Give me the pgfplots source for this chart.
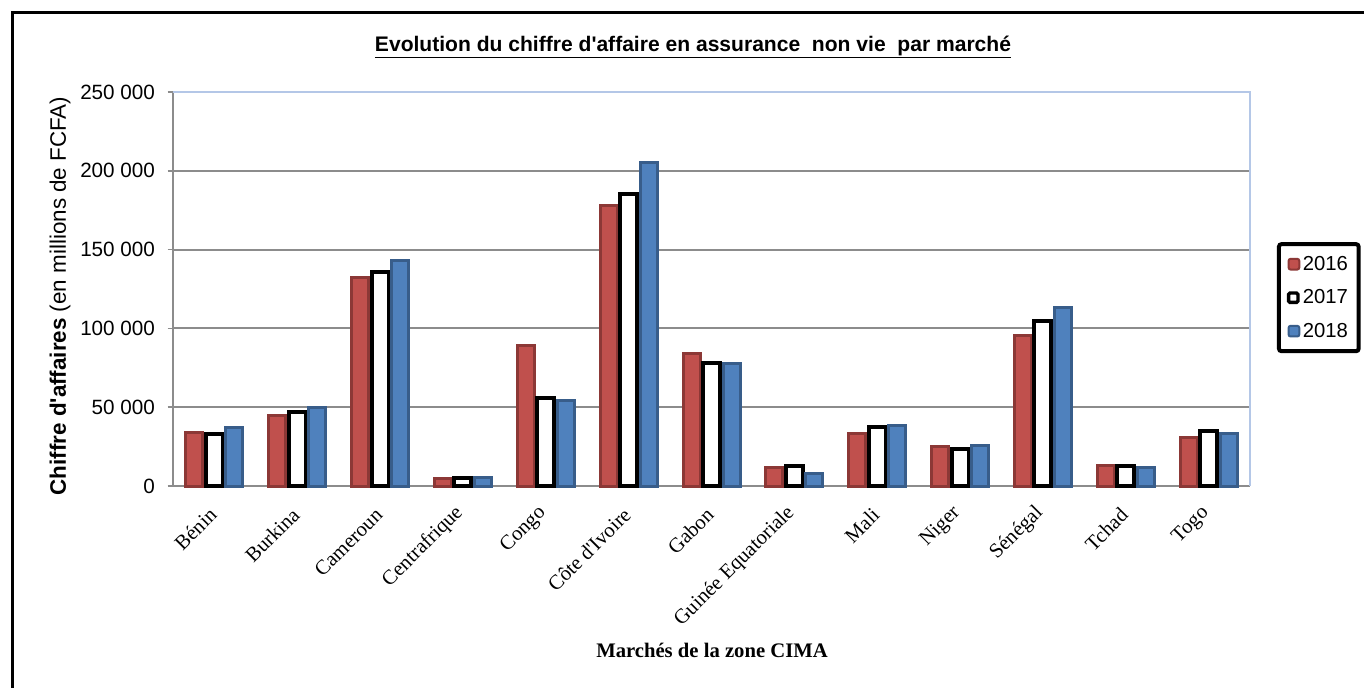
\documentclass[border=0pt]{standalone}
\usepackage{fontspec}
\setmainfont{Liberation Sans}
\newfontfamily\seriffont{Liberation Serif}
\usepackage{pgfplots}
\pgfplotsset{compat=1.18}
\definecolor{rfill}{HTML}{C0504D}
\definecolor{rdraw}{HTML}{8C3836}
\definecolor{bfill}{HTML}{4F81BD}
\definecolor{bdraw}{HTML}{385D8A}
\definecolor{gridgray}{HTML}{8C8C8C}
\definecolor{plotblue}{HTML}{B4C7E7}

% chiffre d'affaires non vie, millions de FCFA
\pgfplotstableread{
idx v2016 v2017 v2018
0 34000 33000 37000
1 45000 47000 50000
2 132000 136000 143000
3 5000 5000 5500
4 89000 56000 54500
5 178000 185000 205500
6 84000 78000 78000
7 12000 13000 8000
8 33600 37500 38700
9 25000 23500 25400
10 95500 105000 113500
11 12700 12500 12000
12 30500 35000 33000
}\datatable

\begin{document}
\begin{tikzpicture}[x=0.75pt,y=-0.75pt]
\path[use as bounding box] (0,0) rectangle (1364,688);
\draw[line width=2.25pt] (12,700) -- (12,13) -- (1380,13);

\begin{axis}[
    at={(129.75pt,-364.5pt)}, anchor=south west,
    width=807.75pt, height=295.5pt, scale only axis,
    xmin=-0.5, xmax=12.5, ymin=0, ymax=250000,
    clip=false, scaled y ticks=false,
    xtick={0,...,12},
    xticklabels={Bénin,Burkina,Cameroun,Centrafrique,Congo,Côte d\textquotesingle Ivoire,Gabon,Guinée Equatoriale,Mali,Niger,Sénégal,Tchad,Togo},
    x tick label style={xshift=3pt, rotate=45, anchor=south east, font=\seriffont\fontsize{15.5}{15.5}\selectfont, inner sep=0pt},
    xticklabel shift=19pt,
    xtick style={draw=none},
    ytick={0,50000,...,250000},
    yticklabels={0,50 000,100 000,150 000,200 000,250 000},
    y tick label style={font=\fontsize{15.5}{15.5}\selectfont, xshift=-6pt},
    ytick style={gridgray, line width=1.2pt},
    tick align=outside, major tick length=4pt,
    ymajorgrids, grid style={gridgray, line width=1.5pt},
    axis x line*=bottom, axis y line*=left,
    axis line style={gridgray, line width=1.5pt},
    ybar=2.25pt, bar width=12.75pt,
    legend cell align=left,
    legend style={at={(1.025,0.619)}, anchor=north west, draw=black, line width=3pt,
      rounded corners=2pt, font=\fontsize{15.2}{15.2}\selectfont,
      row sep=9pt, inner xsep=6pt, inner ysep=7pt},
]
\draw[plotblue, line width=1.5pt] (rel axis cs:0,1) -- (rel axis cs:1,1) -- (rel axis cs:1,0);
\addplot[fill=rfill, draw=rdraw, line width=2.25pt,
  legend image code/.code={\draw[rdraw, fill=rfill, line width=1.5pt, rounded corners=1.5pt] (0pt,-4pt) rectangle (8pt,4pt);}]
  table[x=idx, y=v2016] {\datatable};
\addlegendentry{2016}
\addplot[fill=white, draw=black, line width=3pt,
  legend image code/.code={\draw[black, fill=white, line width=2.5pt, rounded corners=1pt] (0pt,-3.5pt) rectangle (7pt,3.5pt);}]
  table[x=idx, y=v2017] {\datatable};
\addlegendentry{2017}
\addplot[fill=bfill, draw=bdraw, line width=2.25pt,
  legend image code/.code={\draw[bdraw, fill=bfill, line width=1.5pt, rounded corners=1.5pt] (0pt,-4pt) rectangle (8pt,4pt);}]
  table[x=idx, y=v2018] {\datatable};
\addlegendentry{2018}
\end{axis}

\node[font=\bfseries\fontsize{15.8}{15.8}\selectfont] at (693,47) {\underline{Evolution du chiffre d\textquotesingle affaire en assurance\ \ non vie\ \ par marché}};
\node[rotate=90, font=\fontsize{16.8}{16.8}\selectfont] at (60,296) {\textbf{Chiffre d\textquotesingle affaires} (en millions de FCFA)};
\node[font=\seriffont\bfseries\fontsize{15.5}{15.5}\selectfont] at (712,650) {Marchés de la zone CIMA};
\end{tikzpicture}
\end{document}
